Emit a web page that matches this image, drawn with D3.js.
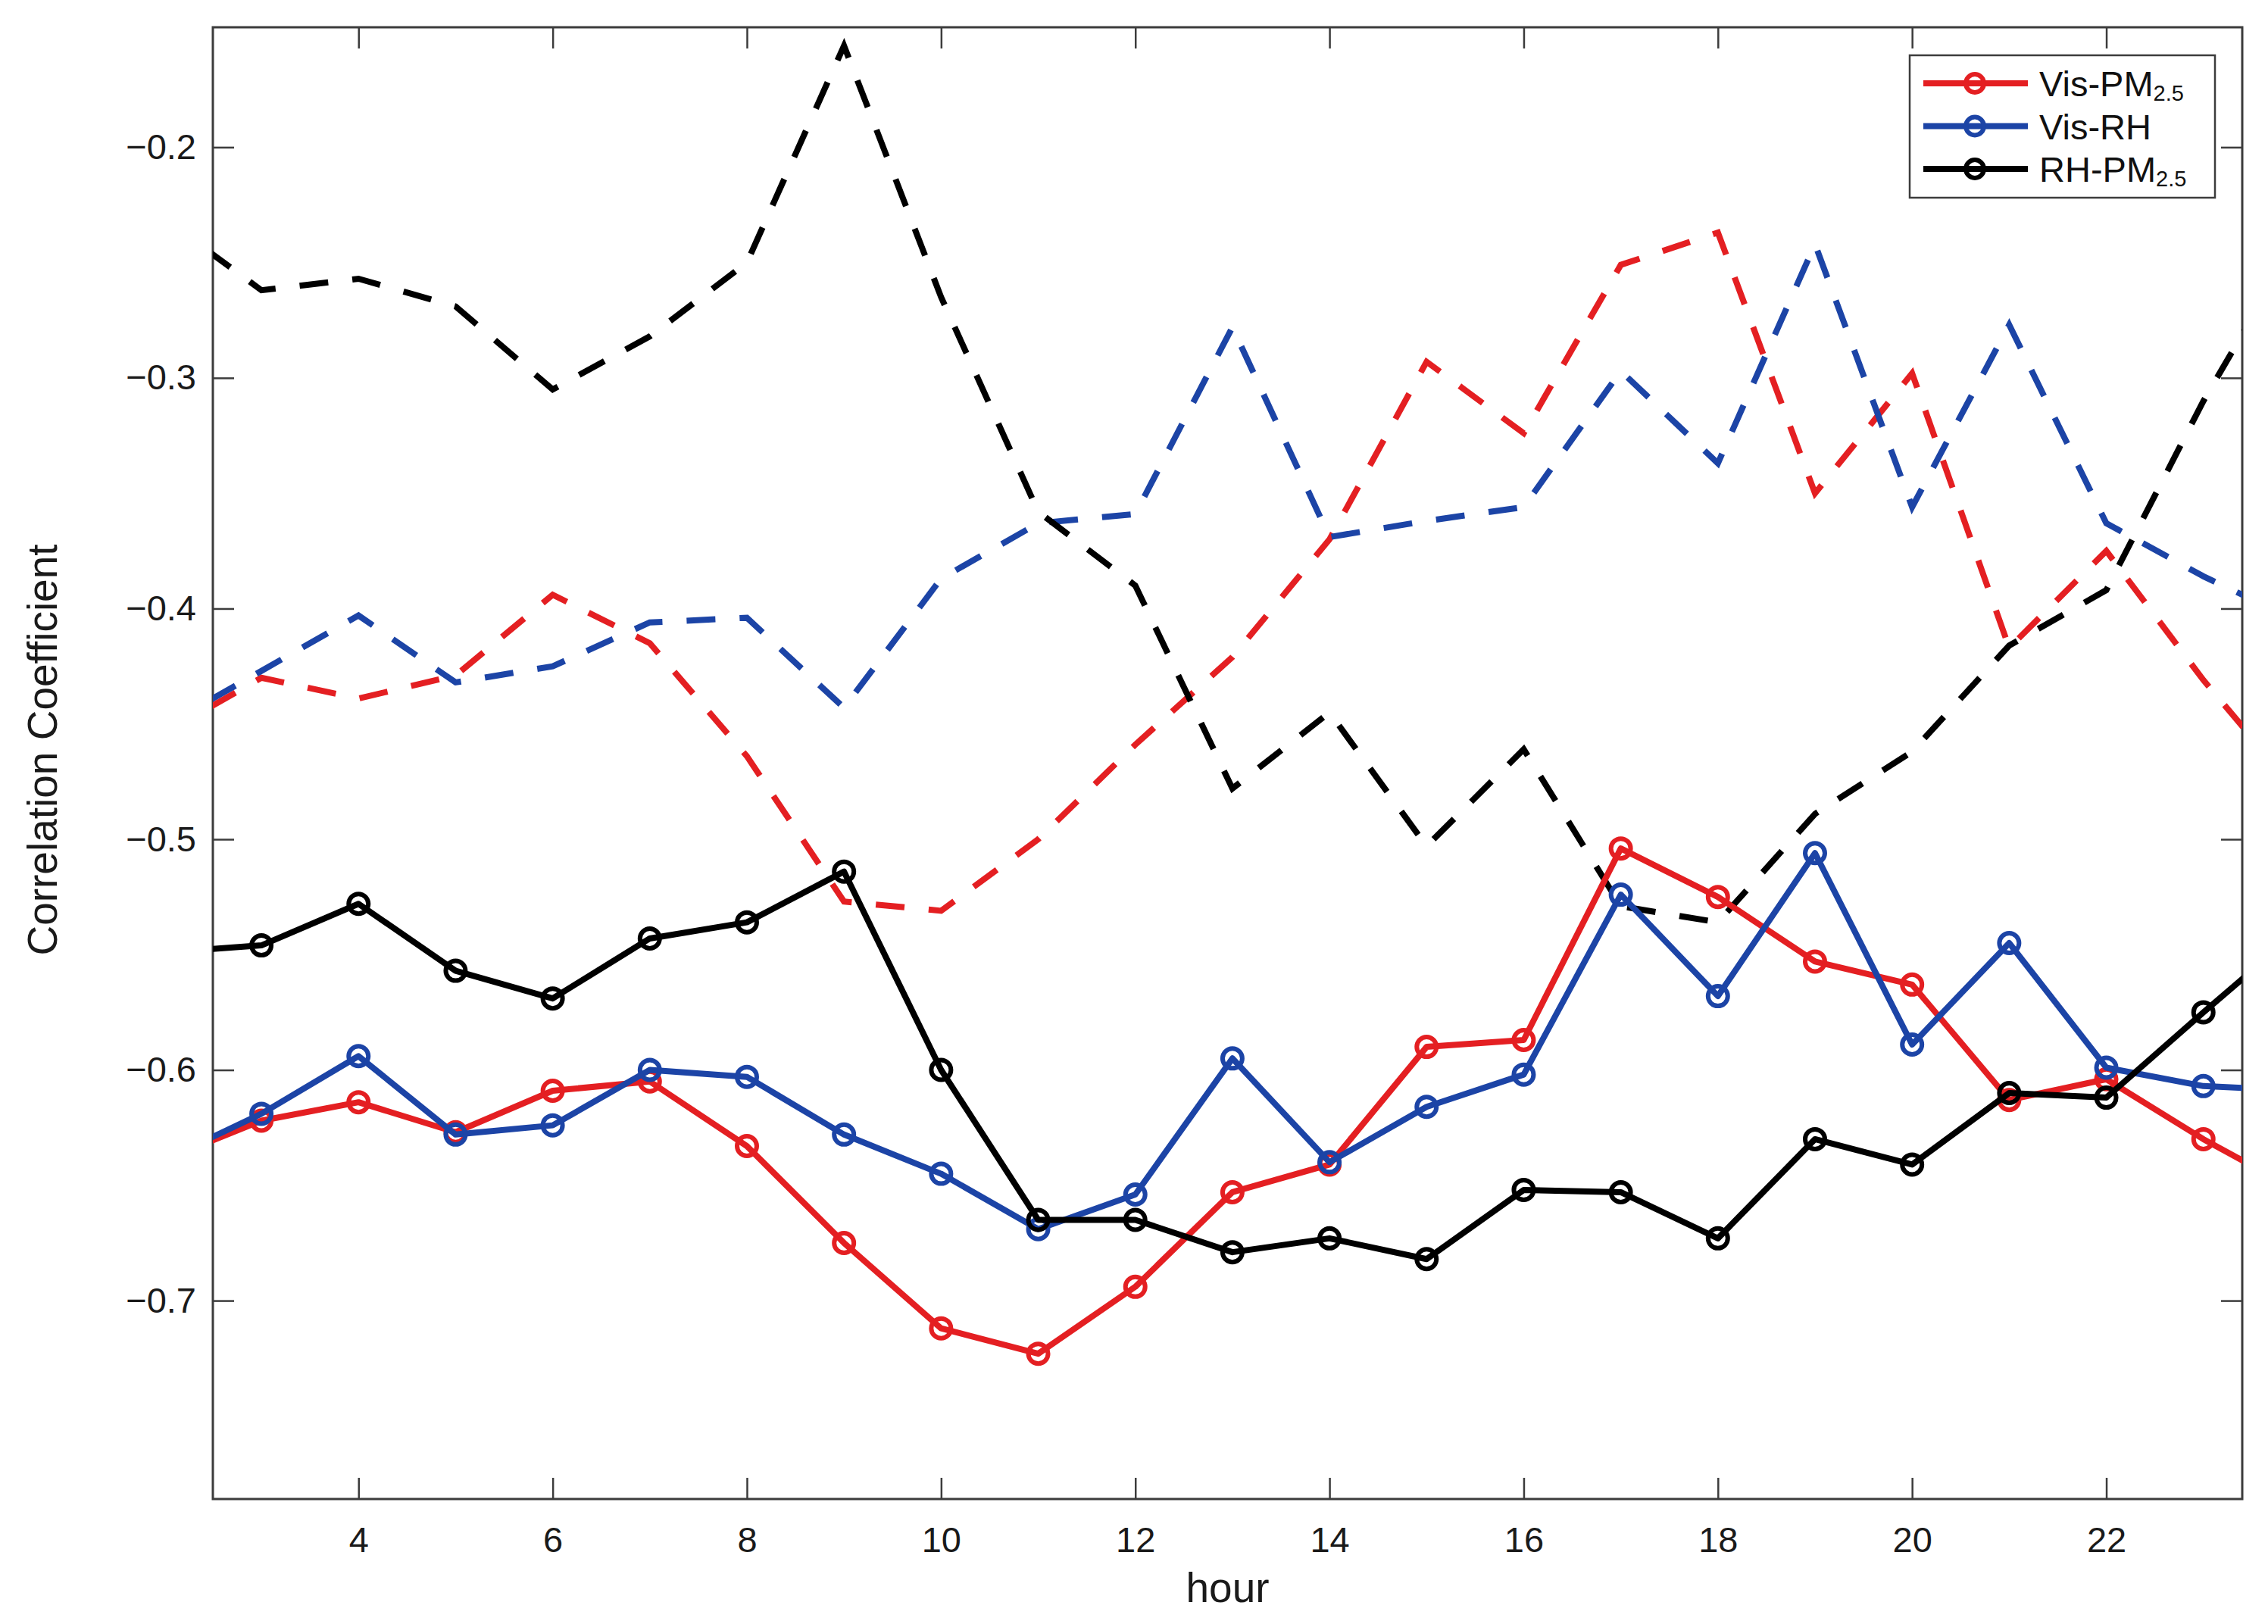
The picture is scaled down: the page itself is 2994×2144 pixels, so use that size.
<!DOCTYPE html>
<html>
<head>
<meta charset="utf-8">
<script src="https://cdn.jsdelivr.net/npm/d3@7"></script>
<style>
  body { margin: 0; background: #fff; }
  svg { display: block; font-family: "Liberation Sans", Arial, Helvetica, sans-serif; }
</style>
</head>
<body>
<div id="chart"></div>
<script>
// hours 2 and 24 sit just outside the axis limits, lines are clipped at the box
var hours = [2, 3, 4, 5, 6, 7, 8, 9, 10, 11, 12, 13, 14, 15, 16, 17, 18, 19, 20, 21, 22, 23, 24];

// solid lines (with circle markers)
var visPM = [-0.639, -0.622, -0.614, -0.627, -0.609, -0.605, -0.633, -0.675, -0.712, -0.723, -0.694, -0.653,
             -0.641, -0.590, -0.587, -0.504, -0.525, -0.553, -0.563, -0.613, -0.604, -0.630, -0.653];
var visRH = [-0.639, -0.619, -0.594, -0.628, -0.624, -0.600, -0.603, -0.628, -0.645, -0.669, -0.654, -0.595,
             -0.640, -0.616, -0.602, -0.524, -0.568, -0.506, -0.589, -0.545, -0.599, -0.607, -0.609];
var rhPM  = [-0.549, -0.546, -0.528, -0.557, -0.569, -0.543, -0.536, -0.514, -0.600, -0.665, -0.665, -0.679,
             -0.673, -0.682, -0.652, -0.653, -0.673, -0.630, -0.641, -0.610, -0.612, -0.575, -0.539];

// dashed lines
var visPMd = [-0.454, -0.430, -0.439, -0.429, -0.394, -0.415, -0.464, -0.527, -0.531, -0.500, -0.459, -0.421,
              -0.370, -0.293, -0.324, -0.251, -0.237, -0.350, -0.298, -0.417, -0.375, -0.431, -0.481];
var visRHd = [-0.451, -0.427, -0.403, -0.432, -0.425, -0.406, -0.404, -0.443, -0.387, -0.363, -0.359, -0.278,
              -0.369, -0.362, -0.356, -0.297, -0.337, -0.242, -0.356, -0.277, -0.363, -0.386, -0.406];
var rhPMd  = [-0.231, -0.262, -0.257, -0.269, -0.305, -0.282, -0.250, -0.156, -0.265, -0.358, -0.390, -0.478,
              -0.445, -0.503, -0.461, -0.529, -0.536, -0.489, -0.462, -0.416, -0.392, -0.310, -0.238];

var xTicks = [4, 6, 8, 10, 12, 14, 16, 18, 20, 22];
var yTicks = [-0.7, -0.6, -0.5, -0.4, -0.3, -0.2];

var names = ["Vis-PM", "Vis-RH", "RH-PM"];
var subs = ["2.5", "", "2.5"];
var colors = ["#e41f22", "#1c44a6", "#000000"];

var W = 2994, H = 2144;
var margin = {top: 36, right: 34, bottom: 165, left: 281};
var width = W - margin.left - margin.right,
    height = H - margin.top - margin.bottom;

var svg = d3.select("#chart").append("svg")
    .attr("width", W)
    .attr("height", H);

var g = svg.append("g")
    .attr("transform", "translate(" + margin.left + "," + margin.top + ")");

var x = d3.scaleLinear().domain([2.5, 23.4]).range([0, width]);
var y = d3.scaleLinear().domain([-0.786, -0.148]).range([height, 0]);

var axisColor = "#3c3c3c";
var fmt = d3.format(".1f");

// axes (ticks point inwards, box style)
var xb = g.append("g").attr("transform", "translate(0," + height + ")")
    .call(d3.axisBottom(x).tickValues(xTicks).tickSize(-28).tickPadding(37).tickFormat(d3.format("d")));
var xt = g.append("g")
    .call(d3.axisTop(x).tickValues(xTicks).tickSize(-28).tickFormat(""));
var yl = g.append("g")
    .call(d3.axisLeft(y).tickValues(yTicks).tickSize(-28).tickPadding(22).tickFormat(fmt));
var yr = g.append("g").attr("transform", "translate(" + width + ",0)")
    .call(d3.axisRight(y).tickValues(yTicks).tickSize(-28).tickFormat(""));

[xb, xt, yl, yr].forEach(function(a){
    a.select(".domain").remove();
    a.selectAll(".tick line").attr("stroke", axisColor).attr("stroke-width", 2.5);
    a.selectAll(".tick text").attr("fill", "#1a1a1a").attr("font-size", 47)
        .attr("font-family", "'Liberation Sans', Arial, Helvetica, sans-serif");
});

g.append("rect")
    .attr("width", width)
    .attr("height", height)
    .attr("fill", "none")
    .attr("stroke", axisColor)
    .attr("stroke-width", 3);

// axis labels
g.append("text")
    .attr("x", width / 2)
    .attr("y", height + 136)
    .attr("text-anchor", "middle")
    .attr("font-size", 55)
    .attr("fill", "#1a1a1a")
    .text("hour");

svg.append("text")
    .attr("transform", "translate(75,990) rotate(-90)")
    .attr("text-anchor", "middle")
    .attr("font-size", 55)
    .attr("fill", "#1a1a1a")
    .text("Correlation Coefficient");

// plot lines
g.append("clipPath").attr("id", "clip")
  .append("rect").attr("width", width).attr("height", height);

var plot = g.append("g").attr("clip-path", "url(#clip)");

var line = d3.line()
    .x(function(d){ return x(d.h); })
    .y(function(d){ return y(d.v); });

function pairs(vals) {
    return hours.map(function(h, i){ return {h: h, v: vals[i]}; });
}

var dashed = [visPMd, visRHd, rhPMd];
var solid = [visPM, visRH, rhPM];

dashed.forEach(function(vals, i){
    plot.append("path")
        .datum(pairs(vals))
        .attr("d", line)
        .attr("fill", "none")
        .attr("stroke", colors[i])
        .attr("stroke-width", 8)
        .attr("stroke-dasharray", "38,32")
        .attr("stroke-linejoin", "miter");
});

solid.forEach(function(vals, i){
    plot.append("path")
        .datum(pairs(vals))
        .attr("d", line)
        .attr("fill", "none")
        .attr("stroke", colors[i])
        .attr("stroke-width", 8)
        .attr("stroke-linejoin", "round");

    plot.selectAll(".m" + i)
        .data(pairs(vals).filter(function(d){ return d.h >= x.domain()[0] && d.h <= x.domain()[1]; }))
        .enter().append("circle")
        .attr("class", "m" + i)
        .attr("cx", function(d){ return x(d.h); })
        .attr("cy", function(d){ return y(d.v); })
        .attr("r", 13)
        .attr("fill", "none")
        .attr("stroke", colors[i])
        .attr("stroke-width", 6);
});

// legend
var lg = svg.append("g").attr("transform", "translate(2521,73)");

lg.append("rect")
    .attr("width", 403)
    .attr("height", 188)
    .attr("fill", "#fff")
    .attr("stroke", axisColor)
    .attr("stroke-width", 2.5);

names.forEach(function(n, i){
    var ly = 37 + i * 56.5;
    lg.append("line")
        .attr("x1", 18).attr("x2", 156)
        .attr("y1", ly).attr("y2", ly)
        .attr("stroke", colors[i])
        .attr("stroke-width", 8);
    lg.append("circle")
        .attr("cx", 86).attr("cy", ly)
        .attr("r", 12)
        .attr("fill", "none")
        .attr("stroke", colors[i])
        .attr("stroke-width", 6);
    var t = lg.append("text")
        .attr("x", 171)
        .attr("y", ly + 17)
        .attr("font-size", 47)
        .attr("fill", "#111")
        .text(n);
    if (subs[i]) {
        t.append("tspan")
            .attr("font-size", 29)
            .attr("dy", 6)
            .text(subs[i]);
    }
});
</script>
</body>
</html>
